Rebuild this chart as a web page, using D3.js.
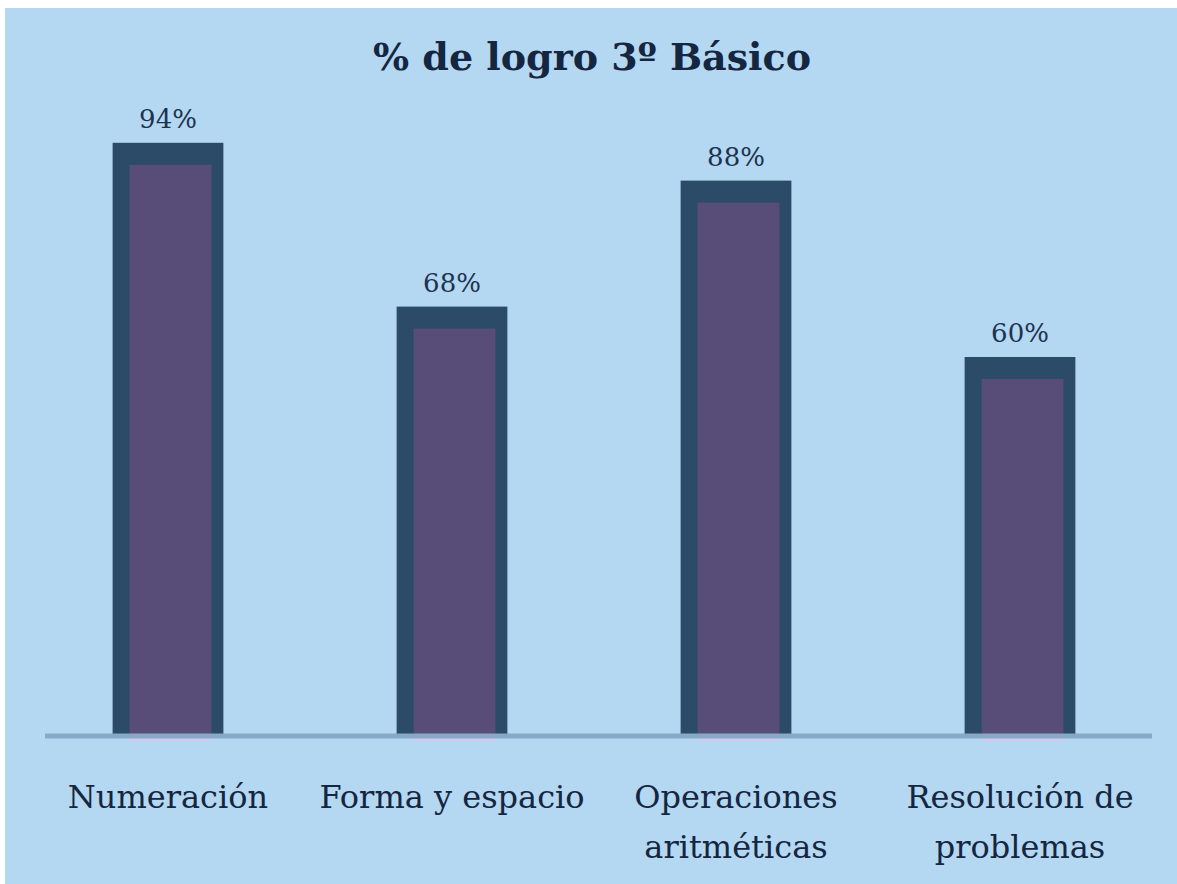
<html>
<head>
    <title>% de logro 3º Básico</title>
    <script src="https://d3js.org/d3.v7.min.js"></script>
    <style>
        body { margin: 0; background: #ffffff; }
        svg { display: block; }
        svg text { font-family: "DejaVu Serif", "Liberation Serif", serif; }
    </style>
</head>
<body>
    <svg id="chart" width="1177" height="884"></svg>

    <script>
    // data
    var categories = ["Numeración", "Forma y espacio", "Operaciones aritméticas", "Resolución de problemas"];
    var labelLines = [["Numeración"], ["Forma y espacio"], ["Operaciones", "aritméticas"], ["Resolución de", "problemas"]];
    var values = [94, 68, 88, 60];
    var valueLabels = ["94%", "68%", "88%", "60%"];

    var svg = d3.select("#chart");

    svg.append("rect")
        .attr("x", 5).attr("y", 8)
        .attr("width", 1172).attr("height", 876)
        .attr("fill", "#b4d7f2");

    var x = d3.scaleBand().domain(categories).range([26, 1162]).paddingInner(0.61).paddingOuter(0.305);
    var y = d3.scaleLinear().domain([0, 100]).range([735, 105]);

    // title
    svg.append("text")
        .attr("x", 592).attr("y", 70)
        .attr("text-anchor", "middle")
        .attr("font-size", 38)
        .attr("font-weight", "bold")
        .attr("fill", "#152640")
        .text("% de logro 3º Básico");

    var bars = svg.selectAll("g.bar").data(categories).enter()
        .append("g").attr("class", "bar");

    // dark outer shape
    bars.append("rect")
        .attr("x", function (d) { return x(d); })
        .attr("y", function (d, i) { return y(values[i]); })
        .attr("width", x.bandwidth())
        .attr("height", function (d, i) { return y(0) - y(values[i]); })
        .attr("fill", "#2c4b69");

    // purple face
    bars.append("rect")
        .attr("x", function (d) { return x(d) + 17; })
        .attr("y", function (d, i) { return y(values[i]) + 22; })
        .attr("width", x.bandwidth() - 29)
        .attr("height", function (d, i) { return y(0) - y(values[i]) - 22; })
        .attr("fill", "#584c79");

    // lilac strip under the face
    bars.append("rect")
        .attr("x", function (d) { return x(d) + 17; })
        .attr("y", y(0))
        .attr("width", x.bandwidth() - 29)
        .attr("height", 6)
        .attr("fill", "#d6c8ef");

    // axis line
    svg.append("line")
        .attr("x1", 45).attr("x2", 1152)
        .attr("y1", y(0) + 1).attr("y2", y(0) + 1)
        .attr("stroke", "#85a9c6")
        .attr("stroke-width", 5);

    // value labels
    bars.append("text")
        .attr("x", function (d) { return x(d) + x.bandwidth() / 2; })
        .attr("y", function (d, i) { return y(values[i]) - 15; })
        .attr("text-anchor", "middle")
        .attr("font-size", 26)
        .attr("fill", "#1c3350")
        .text(function (d, i) { return valueLabels[i]; });

    // category labels
    bars.each(function (d, i) {
        var t = d3.select(this).append("text")
            .attr("text-anchor", "middle")
            .attr("font-size", 32)
            .attr("fill", "#152640");
        labelLines[i].forEach(function (line, k) {
            t.append("tspan")
                .attr("x", x(d) + x.bandwidth() / 2)
                .attr("y", 808 + k * 50)
                .text(line);
        });
    });
    </script>
</body>
</html>
